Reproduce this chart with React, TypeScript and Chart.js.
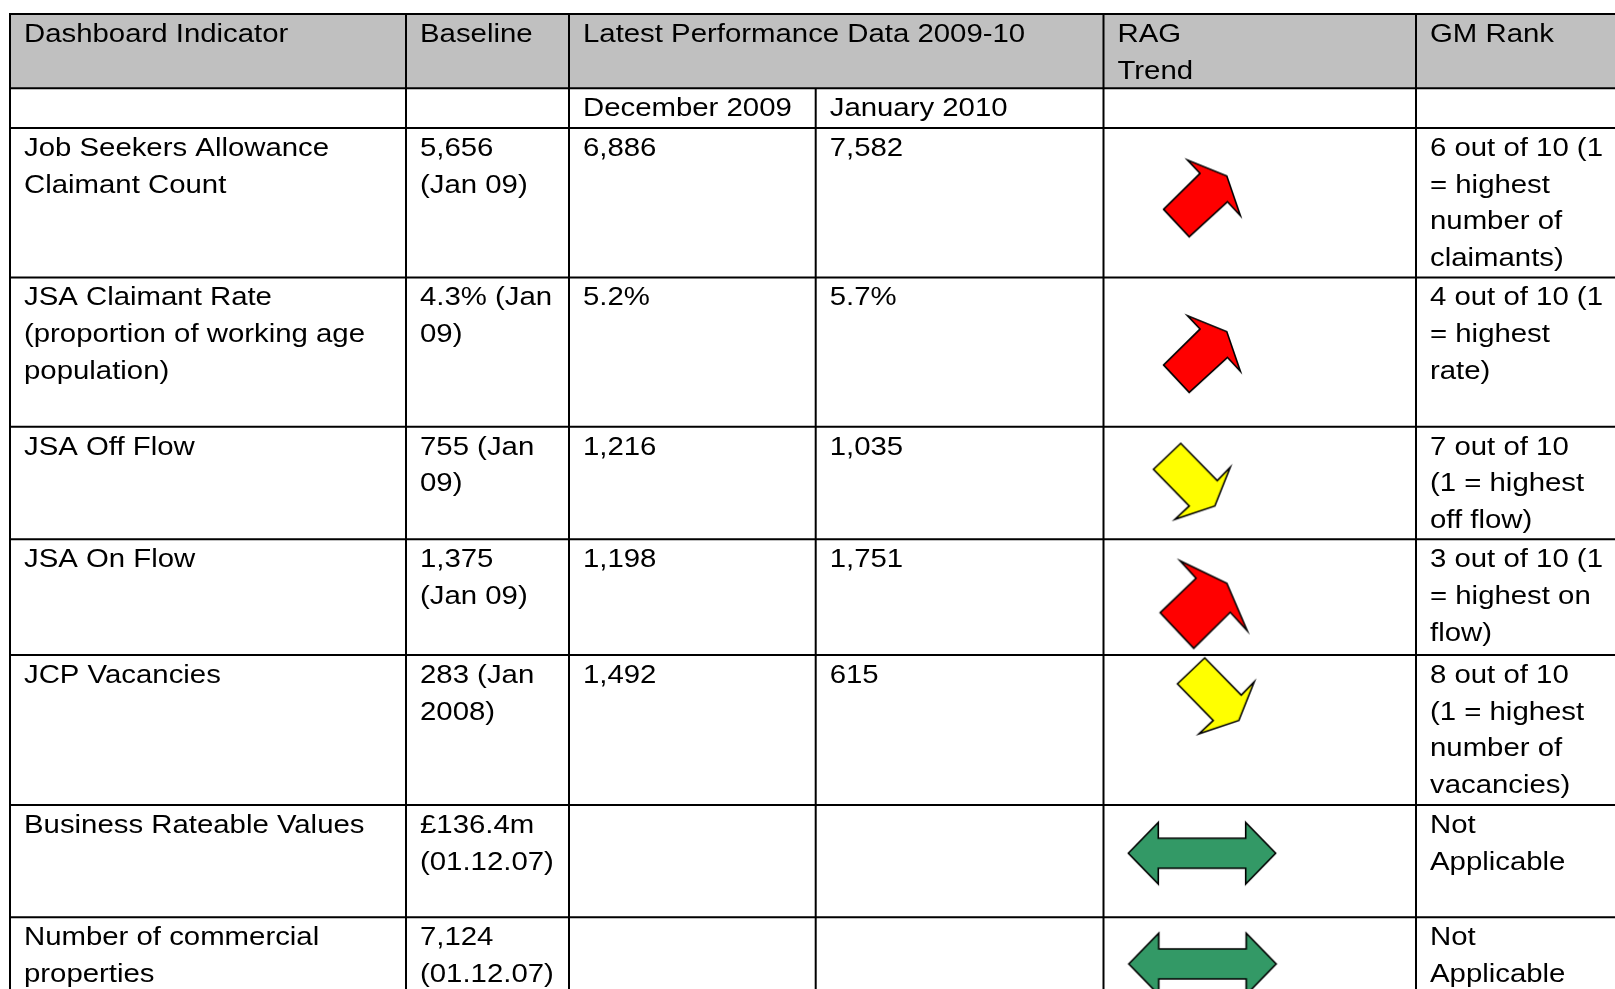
import React, { useEffect, useRef } from "react";
import { Chart, registerables } from "chart.js";

Chart.register(...registerables);

// ---------------- data ----------------
const headerLabels: string[][] = [
  ["Dashboard Indicator"],
  ["Baseline"],
  ["Latest Performance Data 2009-10"],
  [],
  ["RAG", "Trend"],
  ["GM Rank"],
];
const periodLabels: string[] = ["", "", "December 2009", "January 2010", "", ""];

const indicators: string[][] = [
  ["Job Seekers Allowance", "Claimant Count"],
  ["JSA Claimant Rate", "(proportion of working age", "population)"],
  ["JSA Off Flow"],
  ["JSA On Flow"],
  ["JCP Vacancies"],
  ["Business Rateable Values"],
  ["Number of commercial", "properties"],
];
const baselineValues: string[][] = [
  ["5,656", "(Jan 09)"],
  ["4.3% (Jan", "09)"],
  ["755 (Jan", "09)"],
  ["1,375", "(Jan 09)"],
  ["283 (Jan", "2008)"],
  ["£136.4m", "(01.12.07)"],
  ["7,124", "(01.12.07)"],
];
const december2009: string[] = ["6,886", "5.2%", "1,216", "1,198", "1,492", "", ""];
const january2010: string[] = ["7,582", "5.7%", "1,035", "1,751", "615", "", ""];
const trendDirection: string[] = ["up", "up", "down", "up", "down", "both", "both"];
const ragStatus: string[] = ["red", "red", "amber", "red", "amber", "green", "green"];
const gmRank: string[][] = [
  ["6 out of 10 (1", "= highest", "number of", "claimants)"],
  ["4 out of 10 (1", "= highest", "rate)"],
  ["7 out of 10", "(1 = highest", "off flow)"],
  ["3 out of 10 (1", "= highest on", "flow)"],
  ["8 out of 10", "(1 = highest", "number of", "vacancies)"],
  ["Not", "Applicable"],
  ["Not", "Applicable"],
];

// ---------------- layout / style ----------------
const W = 1615;
const H = 989;
const COLS = [10, 406, 569, 815.7, 1103.5, 1416, 1680];
const ROWS = [14, 88.3, 128, 277.5, 426.7, 539.3, 655, 805, 917.3, 1200];
const FONT_SIZE = 25.5;
const SCALE_X = 1.151;
const LINE_H = 36.7;
const BASE_OFF = 27.8;
const PAD_X = 14;
const FONT_FAMILY = '"Liberation Sans", Arial, Helvetica, sans-serif';
const ARROW_DX = [98.5, 98.5, 88.2, 100.2, 112.2, 98.5, 99];
const ARROW_DY = [70.4, 76.6, 54.6, 65.2, 40.8, 48.2, 46.6];
const HEADER_FILL = "#C0C0C0";
const RAG_COLORS: Record<string, string> = { red: "#FF0000", amber: "#FFFF00", green: "#339966" };

const SHAPE_UP: number[][] = [
  [-38.4, 10.9], [-1.9, -25.1], [-14.5, -38.4], [24.8, -22.4], [38.4, 17.3], [25.4, 3.3], [-12.8, 38.3],
];
const SHAPE_UP_BIG: number[][] = [
  [-43.5, 8.2], [-7.7, -26.2], [-23.7, -43.8], [23.1, -21.2], [43.5, 26.2], [26.5, 7.8], [-10, 43.8],
];
const SHAPE_DOWN: number[][] = [
  [-38.3, -12], [-11, -38], [25.5, -0.6], [38.5, -14], [23.1, 24.7], [-16.8, 38], [-2.5, 24.7],
];
const SHAPE_BOTH: number[][] = [
  [-73.7, 0], [-43.7, -30.8], [-43.7, -15], [43.7, -15], [43.7, -30.8], [73.7, 0],
  [43.7, 30.8], [43.7, 15], [-43.7, 15], [-43.7, 30.8],
];

function makeArrow(pts: number[][], fill: string): HTMLCanvasElement {
  const w = 170;
  const h = 100;
  const c = document.createElement("canvas");
  c.width = w;
  c.height = h;
  const g = c.getContext("2d")!;
  g.translate(w / 2, h / 2);
  g.beginPath();
  pts.forEach(([x, y], i) => (i ? g.lineTo(x, y) : g.moveTo(x, y)));
  g.closePath();
  g.fillStyle = fill;
  g.fill();
  g.lineWidth = 1.6;
  g.lineJoin = "miter";
  g.strokeStyle = "#000";
  g.stroke();
  return c;
}

function shapeFor(i: number): number[][] {
  const t = trendDirection[i];
  if (t === "both") return SHAPE_BOTH;
  if (t === "down") return SHAPE_DOWN;
  return i === 3 ? SHAPE_UP_BIG : SHAPE_UP;
}

const tablePlugin = {
  id: "tableGrid",
  beforeDatasetsDraw(chart: any) {
    const ctx: CanvasRenderingContext2D = chart.ctx;
    const sx = chart.scales.x;
    const sy = chart.scales.y;
    const px = (v: number) => sx.getPixelForValue(v);
    const py = (v: number) => sy.getPixelForValue(v);
    ctx.save();
    ctx.fillStyle = HEADER_FILL;
    ctx.fillRect(px(COLS[0]), py(ROWS[0]), px(COLS[6]) - px(COLS[0]), py(ROWS[1]) - py(ROWS[0]));

    ctx.strokeStyle = "#000";
    ctx.lineWidth = 2;
    ctx.beginPath();
    ROWS.slice(0, 9).forEach((r) => {
      ctx.moveTo(px(COLS[0]) - 1, py(r));
      ctx.lineTo(px(COLS[6]), py(r));
    });
    COLS.forEach((c, ci) => {
      const startRow = ci === 3 ? ROWS[1] : ROWS[0];
      ctx.moveTo(px(c), py(startRow));
      ctx.lineTo(px(c), py(ROWS[9]));
    });
    ctx.stroke();

    ctx.fillStyle = "#000";
    ctx.font = `${FONT_SIZE}px ${FONT_FAMILY}`;
    ctx.textBaseline = "alphabetic";
    ctx.textAlign = "left";
    const drawCell = (lines: string[], col: number, rowTop: number) => {
      lines.forEach((t, i) => {
        if (!t) return;
        ctx.save();
        ctx.translate(px(COLS[col] + PAD_X), py(rowTop + BASE_OFF + i * LINE_H));
        ctx.scale(SCALE_X, 1);
        ctx.fillText(t, 0, 0);
        ctx.restore();
      });
    };
    headerLabels.forEach((lines, ci) => drawCell(lines, ci, ROWS[0]));
    periodLabels.forEach((t, ci) => drawCell([t], ci, ROWS[1]));
    indicators.forEach((lines, ri) => {
      const top = ROWS[ri + 2];
      drawCell(lines, 0, top);
      drawCell(baselineValues[ri], 1, top);
      drawCell([december2009[ri]], 2, top);
      drawCell([january2010[ri]], 3, top);
      drawCell(gmRank[ri], 5, top);
    });
    ctx.restore();
  },
};

export default function App() {
  const ref = useRef<HTMLCanvasElement | null>(null);
  useEffect(() => {
    let chart: Chart | null = null;
    let cancelled = false;
    const build = () => {
      if (cancelled || !ref.current) return;
      const points = indicators.map((_, i) => ({
        x: COLS[4] + ARROW_DX[i],
        y: ROWS[i + 2] + ARROW_DY[i],
      }));
      const styles = indicators.map((_, i) => makeArrow(shapeFor(i), RAG_COLORS[ragStatus[i]]));
      chart = new Chart(ref.current, {
        type: "scatter",
        data: {
          datasets: [
            {
              data: points,
              pointStyle: styles as any,
              pointRadius: 1,
              pointHoverRadius: 1,
            },
          ],
        },
        options: {
          animation: false,
          responsive: false,
          events: [],
          layout: { padding: 0, autoPadding: false },
          plugins: { legend: { display: false }, tooltip: { enabled: false } },
          scales: {
            x: { type: "linear", display: false, min: 0, max: W },
            y: { type: "linear", display: false, min: 0, max: H, reverse: true },
          },
        },
        plugins: [tablePlugin],
      });
    };
    const fonts: any = (document as any).fonts;
    if (fonts && fonts.load) {
      fonts.load(`${FONT_SIZE}px "Liberation Sans"`).then(build, build);
    } else {
      build();
    }
    return () => {
      cancelled = true;
      if (chart) chart.destroy();
    };
  }, []);
  return (
    <div style={{ position: "fixed", left: 0, top: 0, width: W, height: H, background: "#fff", overflow: "hidden" }}>
      <canvas ref={ref} width={W} height={H} style={{ display: "block" }} />
    </div>
  );
}
